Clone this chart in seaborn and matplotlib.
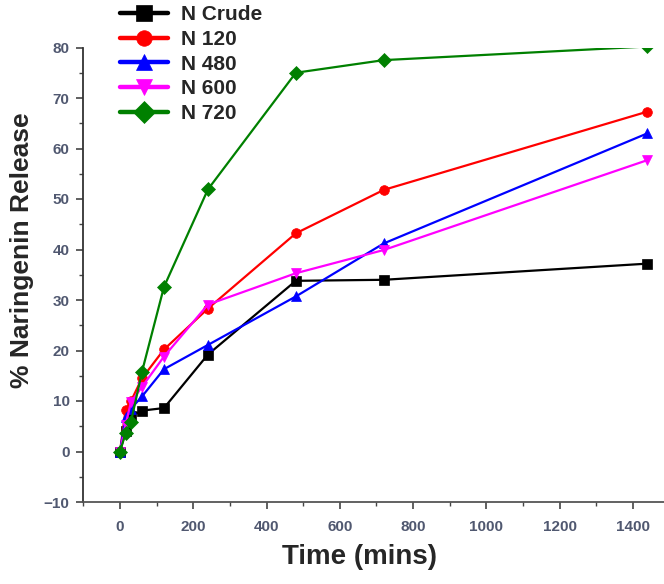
import numpy as np
import pandas as pd
import seaborn as sns
import matplotlib.pyplot as plt
from matplotlib.ticker import MultipleLocator

# === dados ===
time_min = [0, 15, 30, 60, 120, 240, 480, 720, 1440]
samples = ["N Crude", "N 120", "N 480", "N 600", "N 720"]
n_crude = [0, 4.0, 7.0, 8.1, 8.6, 19.2, 33.8, 34.0, 37.2]
n_120 = [0, 8.2, 10.0, 14.5, 20.2, 28.3, 43.2, 51.8, 67.3]
n_480 = [0, 6.9, 8.5, 10.9, 16.3, 21.1, 30.7, 41.2, 63.0]
n_600 = [0, 5.3, 9.8, 12.8, 18.8, 29.1, 35.3, 39.9, 57.7]
n_720 = [0, 3.6, 5.9, 15.8, 32.6, 51.9, 75.0, 77.5, 80.2]

colors = {"N Crude": "black", "N 120": "red", "N 480": "blue", "N 600": "magenta", "N 720": "green"}
markers = {"N Crude": "s", "N 120": "o", "N 480": "^", "N 600": "v", "N 720": "D"}

df = pd.DataFrame({
    "time": time_min * 5,
    "release": n_crude + n_120 + n_480 + n_600 + n_720,
    "sample": np.repeat(samples, len(time_min)),
})

sns.set_style("ticks")
plt.rcParams["font.family"] = ["Liberation Sans", "DejaVu Sans"]

fig = plt.figure(figsize=(6.64, 5.84), dpi=100)
ax = fig.add_axes([83.4 / 664, 82 / 584, 586 / 664, 454.5 / 584])

sns.lineplot(data=df, x="time", y="release", hue="sample", style="sample",
             hue_order=samples, style_order=samples, palette=colors, markers=markers,
             dashes=False, linewidth=1.6, markersize=7, ax=ax, clip_on=True)

for line in ax.lines:
    line.set_markeredgecolor(line.get_color())
    line.set_markeredgewidth(0.5)

ax.set_xlim(-100, 1500)
ax.set_ylim(-10, 80)
ax.xaxis.set_major_locator(MultipleLocator(200))
ax.xaxis.set_minor_locator(MultipleLocator(100))
ax.yaxis.set_major_locator(MultipleLocator(10))
ax.yaxis.set_minor_locator(MultipleLocator(5))
ax.tick_params(which="major", length=5, width=1.2, color="#444444",
               labelsize=11, labelcolor="#505870")
ax.tick_params(axis="x", which="major", pad=8)
ax.tick_params(axis="y", which="major", pad=5)
ax.tick_params(which="minor", length=3, width=1.0, color="#444444")
for lab in ax.get_xticklabels() + ax.get_yticklabels():
    lab.set_fontweight("bold")
ax.set_xlabel("")
ax.set_ylabel("")
sns.despine(ax=ax)
ax.spines["left"].set_linewidth(1.3)
ax.spines["left"].set_color("#333333")
ax.spines["bottom"].set_linewidth(1.3)
ax.spines["bottom"].set_color("#555555")

# legenda
handles, labels = ax.get_legend_handles_labels()
leg = ax.legend(handles, labels, loc="upper left", bbox_to_anchor=(110 / 664, 1 + 5 / 584),
                bbox_transform=fig.transFigure, frameon=False, fontsize=15,
                handlelength=2.3, handletextpad=0.6, labelspacing=0.27, borderpad=0,
                markerscale=1.6)
for h in leg.legend_handles:
    h.set_linewidth(3.2)
for t in leg.get_texts():
    t.set_fontweight("bold")

fig.text(360 / 664, 1 - 557 / 584, "Time (mins)", ha="center", va="center",
         fontsize=20, fontweight="bold")
fig.text(22 / 664, 1 - 250 / 584, "% Naringenin Release", ha="center", va="center",
         rotation=90, fontsize=19, fontweight="bold")

fig.savefig("out.png", dpi=100)
